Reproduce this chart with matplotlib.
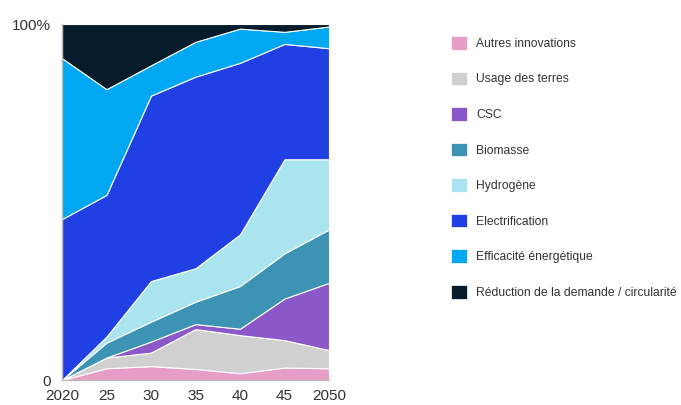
import numpy as np
import matplotlib
matplotlib.use("Agg")
import matplotlib.pyplot as plt
from matplotlib.patches import Patch

plt.rcParams["font.family"] = ["Liberation Sans", "DejaVu Sans"]

# données (part en %, de bas en haut)
annees = [2020, 2025, 2030, 2035, 2040, 2045, 2050]
etiquettes_x = ["2020", "25", "30", "35", "40", "45", "2050"]

autres = [0, 3.3, 3.9, 3.1, 1.9, 3.5, 3.3]
usage_terres = [0, 3.0, 3.8, 11.2, 10.7, 7.7, 5.1]
csc = [0, 0, 3.1, 1.4, 1.8, 11.7, 18.9]
biomasse = [0, 4.2, 5.6, 6.3, 12.0, 12.7, 15.0]
hydrogene = [0, 1.7, 11.4, 9.4, 14.5, 26.4, 19.7]
electrification = [45.2, 39.8, 52.1, 53.8, 48.2, 32.4, 31.2]
efficacite = [45.2, 29.7, 8.5, 9.8, 9.6, 3.4, 6.1]
reduction = [9.6, 18.3, 11.6, 5.0, 1.3, 2.2, 0.7]

series = [autres, usage_terres, csc, biomasse, hydrogene,
          electrification, efficacite, reduction]
noms = ["Autres innovations", "Usage des terres", "CSC", "Biomasse",
        "Hydrogène", "Electrification", "Efficacité énergétique",
        "Réduction de la demande / circularité"]
couleurs = ["#E69EC6", "#D0D0D0", "#8A58C8", "#3D93B3", "#AAE4EF",
            "#2140E4", "#00A8F3", "#061B2B"]

fig = plt.figure(figsize=(6.81, 4.05), dpi=100)
ax = fig.add_axes([62 / 681, 1 - 380 / 405, 267 / 681, 356 / 405])

ax.stackplot(annees, *series, colors=couleurs, edgecolor="white", linewidth=0.8)

ax.set_xlim(2020, 2050)
ax.set_ylim(0, 100)
ax.set_xticks(annees)
ax.set_xticklabels(etiquettes_x)
ax.set_yticks([0, 100])
ax.set_yticklabels(["0", "100%"])
ax.tick_params(length=0, labelsize=11, colors="#333333")
ax.tick_params(axis="x", pad=6.5)
ax.tick_params(axis="y", pad=8)
for s in ["top", "right"]:
    ax.spines[s].set_visible(False)
for s in ["left", "bottom"]:
    ax.spines[s].set_color("#bbbbbb")
    ax.spines[s].set_linewidth(1)

poignees = [Patch(facecolor=c, edgecolor="white", linewidth=0.5) for c in couleurs]
fig.legend(poignees, noms, loc="upper left", bbox_to_anchor=(451 / 681, 1 - 36 / 405),
           frameon=False, fontsize=8.7, handlelength=1.35, handleheight=1.35,
           handletextpad=0.75, labelspacing=1.8, labelcolor="#333333",
           borderaxespad=0, borderpad=0)

fig.savefig("out.png", dpi=100)
